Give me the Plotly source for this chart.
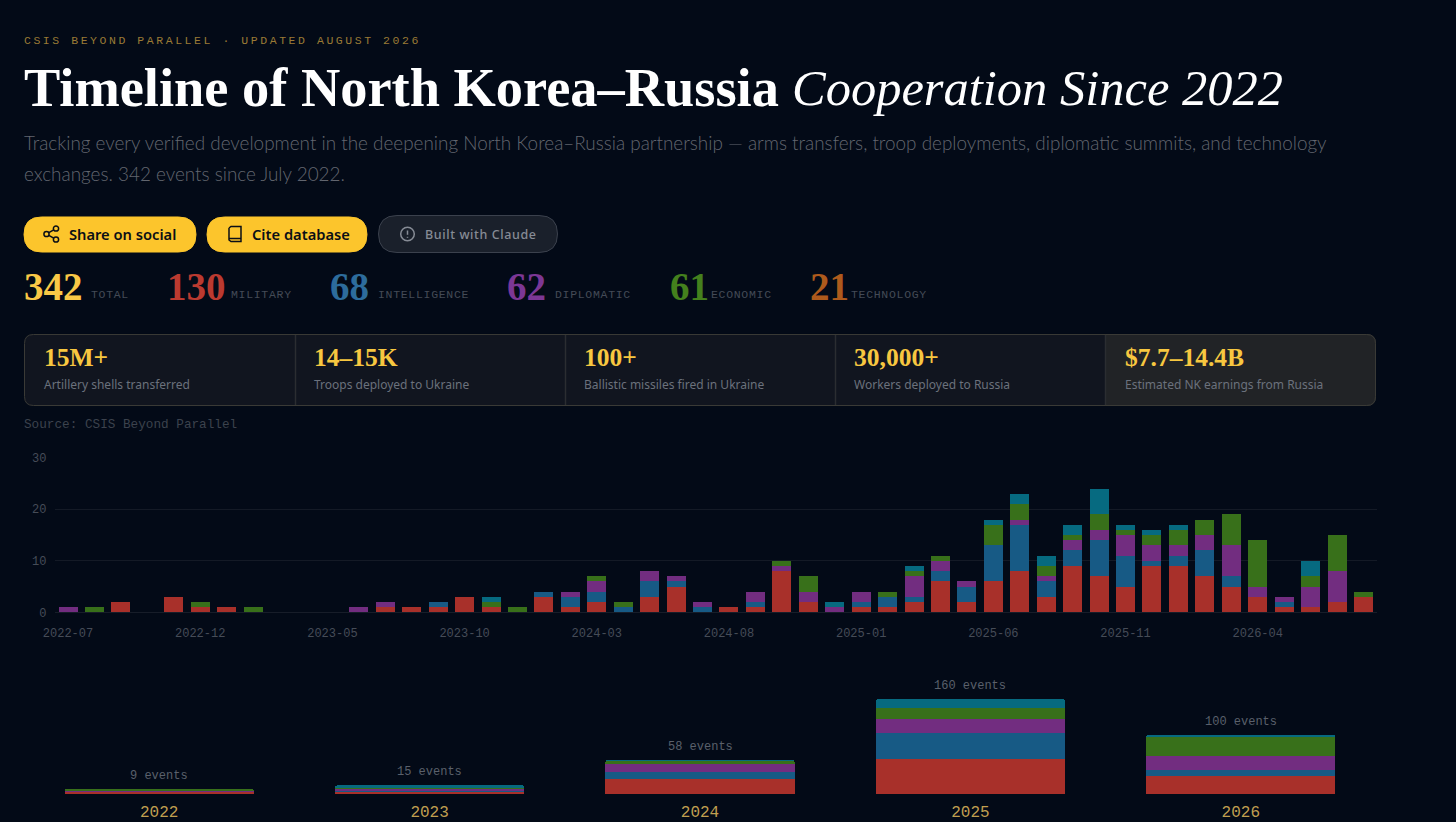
import json
import plotly.graph_objects as go

W = 1456
H = 822

# monthly chart data
months = ['2022-07', '2022-08', '2022-09', '2022-10', '2022-11', '2022-12',
          '2023-01', '2023-02', '2023-03', '2023-04', '2023-05', '2023-06',
          '2023-07', '2023-08', '2023-09', '2023-10', '2023-11', '2023-12',
          '2024-01', '2024-02', '2024-03', '2024-04', '2024-05', '2024-06',
          '2024-07', '2024-08', '2024-09', '2024-10', '2024-11', '2024-12',
          '2025-01', '2025-02', '2025-03', '2025-04', '2025-05', '2025-06',
          '2025-07', '2025-08', '2025-09', '2025-10', '2025-11', '2025-12',
          '2026-01', '2026-02', '2026-03', '2026-04', '2026-05', '2026-06',
          '2026-07', '2026-08']
military = [0, 0, 2, 0, 3, 1, 1, 0, 0, 0, 0, 0, 1, 1, 1, 3, 1, 0, 3, 1, 2, 0, 3, 5, 0,
            1, 1, 8, 2, 0, 1, 1, 2, 6, 2, 6, 8, 3, 9, 7, 5, 9, 9, 7, 5, 3, 1, 1, 2, 3]
intelligence = [0, 0, 0, 0, 0, 0, 0, 0, 0, 0, 0, 0, 0, 0, 1, 0, 0, 0, 1, 2, 2, 1, 3, 1, 1,
                0, 1, 0, 0, 0, 1, 2, 1, 2, 3, 7, 9, 3, 3, 7, 6, 1, 2, 5, 2, 0, 1, 0, 0, 0]
diplomatic = [1, 0, 0, 0, 0, 0, 0, 0, 0, 0, 0, 1, 1, 0, 0, 0, 0, 0, 0, 1, 2, 0, 2, 1, 1,
              0, 2, 1, 2, 1, 2, 0, 4, 2, 1, 0, 1, 1, 2, 2, 4, 3, 2, 3, 6, 2, 1, 4, 6, 0]
economic = [0, 1, 0, 0, 0, 1, 0, 1, 0, 0, 0, 0, 0, 0, 0, 0, 1, 1, 0, 0, 1, 1, 0, 0, 0,
            0, 0, 1, 3, 0, 0, 1, 1, 1, 0, 4, 3, 2, 1, 3, 1, 2, 3, 3, 6, 9, 0, 2, 7, 1]
technology = [0, 0, 0, 0, 0, 0, 0, 0, 0, 0, 0, 0, 0, 0, 0, 0, 1, 0, 0, 0, 0, 0, 0, 0, 0,
              0, 0, 0, 0, 1, 0, 0, 1, 0, 0, 1, 2, 2, 2, 5, 1, 1, 1, 0, 0, 0, 0, 3, 0, 0]
month_ticks = ['2022-07', '2022-12', '2023-05', '2023-10', '2024-03', '2024-08',
               '2025-01', '2025-06', '2025-11', '2026-04']
count_ticks = [0, 10, 20, 30]

# yearly chart data
years = ['2022', '2023', '2024', '2025', '2026']
year_military = [6, 4, 26, 59, 31]
year_intelligence = [0, 4, 12, 45, 10]
year_diplomatic = [1, 3, 13, 22, 24]
year_economic = [2, 2, 6, 19, 31]
year_technology = [0, 2, 1, 15, 4]

# header text
stat_values = ['342', '130', '68', '62', '61', '21']
stat_labels = ['TOTAL', 'MILITARY', 'INTELLIGENCE', 'DIPLOMATIC', 'ECONOMIC', 'TECHNOLOGY']
card_values = ['15M+', '14–15K', '100+', '30,000+', '$7.7–14.4B']
card_labels = ['Artillery shells transferred', 'Troops deployed to Ukraine',
               'Ballistic missiles fired in Ukraine', 'Workers deployed to Russia',
               'Estimated NK earnings from Russia']

# colours and fonts
BG = '#030a17'
GOLD = '#fcc52c'
CARD_GOLD = '#f7c740'
series_colors = ['#a8302a', '#175a85', '#722d80', '#38701a', '#066a80']
stat_colors = ['#f9c846', '#bb3a30', '#2d6c9c', '#7c3795', '#44801d', '#ae5a1c']
SERIF = 'Liberation Serif'
SANS = 'Lato'
MONO = 'Liberation Mono'

stat_x = [24, 167, 330, 507, 670, 810]
stat_label_x = [91, 231, 378, 555, 711, 851]
card_x = [44, 314, 584, 854, 1125]
divider_x = [295, 565, 835, 1105]


def px(x):
    return x / W


def py(y):
    return 1 - y / H


def round_rect(x0, y0, x1, y1, r):
    pts = [('M', x0 + r, y0), ('L', x1 - r, y0), ('Q', x1, y0, x1, y0 + r), ('L', x1, y1 - r),
           ('Q', x1, y1, x1 - r, y1), ('L', x0 + r, y1), ('Q', x0, y1, x0, y1 - r),
           ('L', x0, y0 + r), ('Q', x0, y0, x0 + r, y0)]
    path = ''
    for p in pts:
        coords = [px(v) if i % 2 == 0 else py(v) for i, v in enumerate(p[1:])]
        path += p[0] + ' ' + ' '.join(f'{c:.5f}' for c in coords) + ' '
    return path + 'Z'


def line_path(points):
    out = 'M ' + ' L '.join(f'{px(x):.5f} {py(y):.5f}' for x, y in points)
    return out


shapes = []
annotations = []


def add_text(x, y, text, size, color, family=SANS, anchor='left', weight=None):
    font = dict(size=size, color=color, family=family)
    if weight:
        font['weight'] = weight
    annotations.append(dict(x=px(x - 1), y=py(y), xref='paper', yref='paper', text=text, showarrow=False,
                            xanchor=anchor, yanchor='middle', font=font, borderpad=0))


def add_box(x0, y0, x1, y1, r, fill, line=None):
    shapes.append(dict(type='path', path=round_rect(x0, y0, x1, y1, r), xref='paper', yref='paper',
                       fillcolor=fill, line=dict(color=line or fill, width=1)))


def add_circle(cx, cy, r, color):
    shapes.append(dict(type='circle', xref='paper', yref='paper', x0=px(cx - r), x1=px(cx + r),
                       y0=py(cy + r), y1=py(cy - r), line=dict(color=color, width=1.5)))


def add_stroke(points, color):
    shapes.append(dict(type='path', path=line_path(points), xref='paper', yref='paper',
                       line=dict(color=color, width=1.5)))


# header
add_text(24, 41, 'CSIS BEYOND PARALLEL · UPDATED AUGUST 2026', 11.5, '#9a7a35', MONO)
add_text(24, 88, 'Timeline of North Korea–Russia', 54.4, '#ffffff', SERIF, weight=700)
add_text(792, 88, '<i>Cooperation Since 2022</i>', 50.5, '#ffffff', SERIF)
add_text(24, 142, 'Tracking every verified development in the deepening North Korea–Russia partnership '
                  '— arms transfers, troop deployments, diplomatic summits, and technology', 18.9, '#62666f',
         weight=300)
add_text(24, 174, 'exchanges. 342 events since July 2022.', 18.9, '#62666f', weight=300)

# buttons
INK = '#0b0f16'
add_box(24, 217, 196, 252, 17.5, GOLD)
add_box(207, 217, 367, 252, 17.5, GOLD)
add_box(378.5, 215.5, 557.5, 252.5, 18.5, '#1a202b', '#3b414d')
add_text(69, 234, 'Share on social', 14.7, INK, 'Noto Sans', weight=600)
add_text(252, 234, 'Cite database', 14.7, INK, 'Noto Sans', weight=600)
add_text(425, 234, 'Built with Claude', 12.5, '#868b95', 'Noto Sans', weight=500)
for cx, cy in [(46.5, 234), (56, 228.5), (56, 239.5)]:
    add_circle(cx, cy, 2.6, INK)
add_stroke([(48.8, 232.7), (53.7, 229.8)], INK)
add_stroke([(48.8, 235.3), (53.7, 238.2)], INK)
add_stroke([(229, 228), (231, 226.5), (241, 226.5), (241, 241.5), (231, 241.5), (229, 240), (229, 228)], INK)
add_stroke([(229, 238.5), (241, 238.5)], INK)
add_circle(407.5, 234, 6.8, '#868b95')
add_stroke([(407.5, 230.5), (407.5, 234.8)], '#868b95')
add_stroke([(407.5, 236.8), (407.5, 237.8)], '#868b95')

# stat row
for i in range(len(stat_values)):
    add_text(stat_x[i], 287, stat_values[i], 39, stat_colors[i], SERIF, weight=700)
    add_text(stat_label_x[i], 295, stat_labels[i], 11.5, '#434a56', MONO)

# cards
add_box(24.5, 334.5, 1375.5, 405.5, 9, '#11151f', '#3a3a36')
shapes.append(dict(type='path', xref='paper', yref='paper', fillcolor='#212326',
                   line=dict(color='#3a3a36', width=1),
                   path='M {} {} L {} {} Q {} {} {} {} L {} {} Q {} {} {} {} L {} {} Z'.format(
                       px(1105.5), py(334.5), px(1366.5), py(334.5), px(1375.5), py(334.5), px(1375.5), py(343.5),
                       px(1375.5), py(396.5), px(1375.5), py(405.5), px(1366.5), py(405.5), px(1105.5), py(405.5))))
for x in divider_x:
    add_stroke([(x + 0.5, 335), (x + 0.5, 405)], '#2b2d31')
for i in range(len(card_values)):
    add_text(card_x[i], 357, card_values[i], 25.5, CARD_GOLD, SERIF, weight=700)
    add_text(card_x[i], 384, card_labels[i], 12, '#6b717c', 'Noto Sans')

add_text(24, 424, 'Source: CSIS Beyond Parallel', 12.7, '#3c424d', MONO)

fig = go.Figure()

monthly = [military, intelligence, diplomatic, economic, technology]
yearly = [year_military, year_intelligence, year_diplomatic, year_economic, year_technology]
names = ['Military', 'Intelligence', 'Diplomatic', 'Economic', 'Technology']

for i in range(5):
    fig.add_trace(go.Bar(x=months, y=monthly[i], name=names[i], marker=dict(color=series_colors[i], line_width=0),
                         xaxis='x', yaxis='y', showlegend=False))
for i in range(5):
    fig.add_trace(go.Bar(x=years, y=yearly[i], name=names[i],
                         marker=dict(color=series_colors[i], line_width=0, cornerradius=2),
                         xaxis='x2', yaxis='y2', showlegend=False, width=0.7))

# event counts above the yearly bars (x is the category's index, '2022' would be read as a number)
year_totals = [sum(v) for v in zip(*yearly)]
for i, total in enumerate(year_totals):
    annotations.append(dict(x=i, y=total, xref='x2', yref='y2', text=f'{total} events', showarrow=False,
                            xanchor='center', yanchor='bottom', yshift=4,
                            font=dict(family=MONO, size=12, color='#5a606b')))

fig.update_layout(
    width=W, height=H, margin=dict(l=0, r=0, t=0, b=0, pad=0),
    paper_bgcolor=BG, plot_bgcolor=BG,
    barmode='stack', bargap=0.28, showlegend=False,
    shapes=shapes, annotations=annotations,
    xaxis=dict(domain=[px(54.8), px(1376.7)], type='category', categoryorder='array', categoryarray=months,
               range=[-0.5, 49.5], tickmode='array', tickvals=month_ticks, ticktext=month_ticks,
               tickfont=dict(family=MONO, size=12, color='#464c57'), ticks='outside', ticklen=9,
               tickcolor='rgba(0,0,0,0)', showgrid=False, zeroline=False, showline=False, anchor='y', tickangle=0,
               automargin=False),
    yaxis=dict(domain=[py(612.3), py(457.7)], range=[0, 30], tickmode='array', tickvals=count_ticks,
               tickfont=dict(family=MONO, size=12, color='#464c57'), ticks='outside', ticklen=5,
               tickcolor='rgba(0,0,0,0)', gridcolor='#141a26', gridwidth=1, zeroline=True, zerolinecolor='#171d29',
               zerolinewidth=1, showline=False, anchor='x', automargin=False),
    xaxis2=dict(domain=[px(24), px(1376)], type='category', categoryorder='array', categoryarray=years,
                range=[-0.5, 4.5], tickfont=dict(family=MONO, size=16, color='#c09f50'), ticks='outside', ticklen=2,
                tickcolor='rgba(0,0,0,0)', showgrid=False, zeroline=False, showline=False, anchor='y2',
                automargin=False),
    yaxis2=dict(domain=[py(794.3), py(675.5)], range=[0, 200], visible=False, anchor='x2', automargin=False),
)

# plotly has no letter spacing, so set it on the page and keep the text's left edge
spaced = {'CSIS BEYOND PARALLEL · UPDATED AUGUST 2026': 2.55, 'Built with Claude': 0.6}
for lab in stat_labels:
    spaced[lab] = 0.7
script = ("document.body.style.margin='0';document.body.style.background='%s';"
          "var sp=%s;document.querySelectorAll('.annotation-text').forEach(function(t){"
          "var s=sp[t.textContent];if(s){var w0=t.getBBox().width;t.style.letterSpacing=s+'px';"
          "var w1=t.getBBox().width;t.setAttribute('x',parseFloat(t.getAttribute('x'))+(w1-w0)/2);}});"
          % (BG, json.dumps(spaced, ensure_ascii=False)))

fig.write_html("out.html", post_script=script, config=dict(displayModeBar=False))
